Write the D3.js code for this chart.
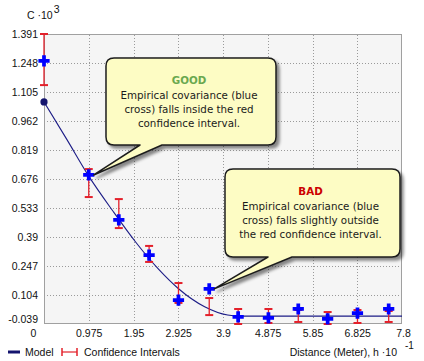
<!DOCTYPE html>
<html><head><meta charset="utf-8">
<script src="https://cdn.jsdelivr.net/npm/d3@7"></script>
<style>body{margin:0;background:#fff}svg{display:block}</style>
</head><body><svg id="c" width="424" height="361"></svg>
<script>
// ---- data ----
const distances = [0, 0.975, 1.63, 2.29, 2.93, 3.6, 4.23, 4.89, 5.54, 6.18, 6.83, 7.51];
const empirical = [1.258, 0.696, 0.474, 0.301, 0.079, 0.134, -0.004, -0.009, 0.035, -0.014, 0.015, 0.035];
const ciUpper   = [1.391, 0.725, 0.577, 0.346, 0.163, 0.089, 0.035, 0.035, 0.030, 0.020, 0.030, 0.025];
const ciLower   = [1.139, 0.587, 0.434, 0.267, 0.065, 0.005, -0.039, -0.034, -0.029, -0.039, -0.034, -0.029];
const modelH = [0, 0.5, 0.975, 1.5, 2.0, 2.5, 2.925, 3.5, 4.0, 4.25, 7.8];
const modelC = [1.056, 0.870, 0.690, 0.518, 0.364, 0.230, 0.136, 0.046, 0.005, 0, 0];
const xTickLabels = ["0","0.975","1.95","2.925","3.9","4.875","5.85","6.825","7.8"];
const yTickLabels = ["-0.039","0.104","0.247","0.39","0.533","0.676","0.819","0.962","1.105","1.248","1.391"];
const calloutTitles = ["GOOD", "BAD"];
const calloutLines = [
  ["Empirical covariance (blue", "cross) falls inside the red", "confidence interval."],
  ["Empirical covariance (blue", "cross) falls slightly outside", "the red confidence interval."]
];
const calloutTargets = [1, 5];

// ---- layout ----
const L = 44, R = 402, T = 34, B = 324;
const svg = d3.select("#c");
const x = d3.scaleLinear([0, 7.8], [L, R]);
const y = d3.scaleLinear([-0.039, 1.391], [B, T]);
const xVals = xTickLabels.map(Number), yVals = yTickLabels.map(Number);
const tickFont = "Liberation Sans, Arial, sans-serif";
const defs = svg.append("defs");
const f = defs.append("filter").attr("id","sh").attr("x","-20%").attr("y","-20%").attr("width","140%").attr("height","150%");
f.append("feDropShadow").attr("dx",3).attr("dy",3).attr("stdDeviation",1.6).attr("flood-color","#000").attr("flood-opacity",0.45);
defs.append("clipPath").attr("id","clip").append("rect").attr("x",L).attr("y",T).attr("width",R-L).attr("height",B-T);

svg.append("rect").attr("x",L).attr("y",T).attr("width",R-L).attr("height",B-T).attr("fill","#f5f5f5");

// grid
const gx = svg.append("g").attr("transform",`translate(0,${B})`)
  .call(d3.axisBottom(x).tickValues(xVals.slice(1,-1)).tickSize(-(B-T)).tickFormat(""));
const gy = svg.append("g").attr("transform",`translate(${L},0)`)
  .call(d3.axisLeft(y).tickValues(yVals.slice(1,-1)).tickSize(-(R-L)).tickFormat(""));
[gx,gy].forEach(g=>{ g.select(".domain").remove();
  g.selectAll("line").attr("stroke","#9a9a9a").attr("stroke-dasharray","1,2").attr("shape-rendering","crispEdges"); });

svg.append("rect").attr("x",L+0.5).attr("y",T+0.5).attr("width",R-L-1).attr("height",B-T-1)
  .attr("fill","none").attr("stroke","#a0a0a0");

// axes labels
const ax = svg.append("g").attr("transform",`translate(0,${B})`)
  .call(d3.axisBottom(x).tickValues(xVals).tickSize(0).tickPadding(6).tickFormat((d,i)=>xTickLabels[i]));
ax.select(".domain").remove();
ax.selectAll("text").attr("font-family",tickFont).attr("font-size","10.5px").attr("fill","#111")
  .attr("dx",(d,i)=> i===0 ? -11 : (i===xVals.length-1 ? 1 : 0));
const ay = svg.append("g").attr("transform",`translate(${L},0)`)
  .call(d3.axisLeft(y).tickValues(yVals).tickSize(0).tickPadding(6).tickFormat((d,i)=>yTickLabels[i]));
ay.select(".domain").remove();
ay.selectAll("text").attr("font-family",tickFont).attr("font-size","10.5px").attr("fill","#111")
  .attr("dy",(d,i)=> i===0 ? "-0.15em" : "0.32em");

// model line
const plot = svg.append("g").attr("clip-path","url(#clip)");
plot.append("path").datum(modelH.map((h,i)=>[h,modelC[i]]))
  .attr("d", d3.line().x(d=>x(d[0])).y(d=>y(d[1])).curve(d3.curveMonotoneX))
  .attr("fill","none").attr("stroke","#1c1c86").attr("stroke-width",1.1);

// confidence intervals
const red = "#e3202a";
const ci = svg.append("g");
distances.forEach((h,i)=>{
  const cx = x(h);
  ci.append("line").attr("x1",cx).attr("x2",cx).attr("y1",y(ciUpper[i])).attr("y2",y(ciLower[i])).attr("stroke",red).attr("stroke-width",1.3);
  [ciUpper[i],ciLower[i]].forEach(v=>ci.append("line").attr("x1",cx-4).attr("x2",cx+4).attr("y1",y(v)).attr("y2",y(v)).attr("stroke",red).attr("stroke-width",2));
});

// model point at h=0
svg.append("circle").attr("cx",x(modelH[0])).attr("cy",y(modelC[0])).attr("r",3.6).attr("fill","#14146e");

// empirical crosses
svg.append("g").selectAll("path").data(distances).join("path")
  .attr("transform",(d,i)=>`translate(${x(d)},${y(empirical[i])})`)
  .attr("d", d3.symbol(d3.symbolCross, 70)).attr("fill","#0000ff");

// callouts
const boxes = [{x0:106,y0:58,x1:276,y1:145,b0:140,b1:162},{x0:225,y0:169,x1:400,y1:257,b0:268,b1:292}];
const titleColors = ["#6aa84f","#cc0000"];
const cf = "DejaVu Sans, Verdana, sans-serif";
boxes.forEach((b,k)=>{
  const t = calloutTargets[k];
  const tx = x(distances[t])+5, ty = y(empirical[t]);
  const r = 8;
  const p = `M${b.x0+r},${b.y0} H${b.x1-r} Q${b.x1},${b.y0} ${b.x1},${b.y0+r} V${b.y1-r} Q${b.x1},${b.y1} ${b.x1-r},${b.y1}`+
    ` H${b.b1} L${tx},${ty} L${b.b0},${b.y1} H${b.x0+r} Q${b.x0},${b.y1} ${b.x0},${b.y1-r} V${b.y0+r} Q${b.x0},${b.y0} ${b.x0+r},${b.y0} Z`;
  svg.append("path").attr("d",p).attr("fill","#fdfcc4").attr("stroke","#1e1e1e").attr("stroke-width",1.5)
    .attr("stroke-linejoin","round").attr("filter","url(#sh)");
  const cx = (b.x0+b.x1)/2 - 2;
  svg.append("text").attr("x",cx).attr("y",b.y0+22).attr("text-anchor","middle").attr("dominant-baseline","central")
    .attr("font-family",cf).attr("font-weight","bold").attr("font-size","10.3px").attr("fill",titleColors[k]).text(calloutTitles[k]);
  calloutLines[k].forEach((s,j)=>svg.append("text").attr("x",cx).attr("y",b.y0+37+j*14.2).attr("text-anchor","middle")
    .attr("dominant-baseline","central").attr("font-family",cf).attr("font-size","10.3px").attr("fill","#1a1a1a").text(s));
});

// axis titles
const yt = svg.append("text").attr("x",27).attr("y",19).attr("font-family",tickFont).attr("font-size","10.5px").attr("fill","#111");
yt.append("tspan").text("C ·10");
yt.append("tspan").attr("dy",-6).attr("dx",1).text("3");
svg.append("text").attr("x",397).attr("y",356).attr("text-anchor","end").attr("font-family",tickFont).attr("font-size","10.5px")
  .attr("fill","#111").text("Distance (Meter), h ·10");
svg.append("text").attr("x",405).attr("y",349).attr("font-family",tickFont).attr("font-size","10px").attr("fill","#111").text("-1");

// legend
svg.append("line").attr("x1",8).attr("x2",20).attr("y1",352).attr("y2",352).attr("stroke","#14146e").attr("stroke-width",3);
svg.append("text").attr("x",25).attr("y",352).attr("dominant-baseline","central").attr("font-family",tickFont).attr("font-size","10.5px").attr("fill","#111").text("Model");
svg.append("line").attr("x1",62).attr("x2",77).attr("y1",352).attr("y2",352).attr("stroke",red).attr("stroke-width",1.2);
[62,77].forEach(xx=>svg.append("line").attr("x1",xx).attr("x2",xx).attr("y1",348).attr("y2",356).attr("stroke",red).attr("stroke-width",1.5));
svg.append("text").attr("x",84).attr("y",352).attr("dominant-baseline","central").attr("font-family",tickFont).attr("font-size","10.5px").attr("fill","#111").text("Confidence Intervals");
</script></body></html>
